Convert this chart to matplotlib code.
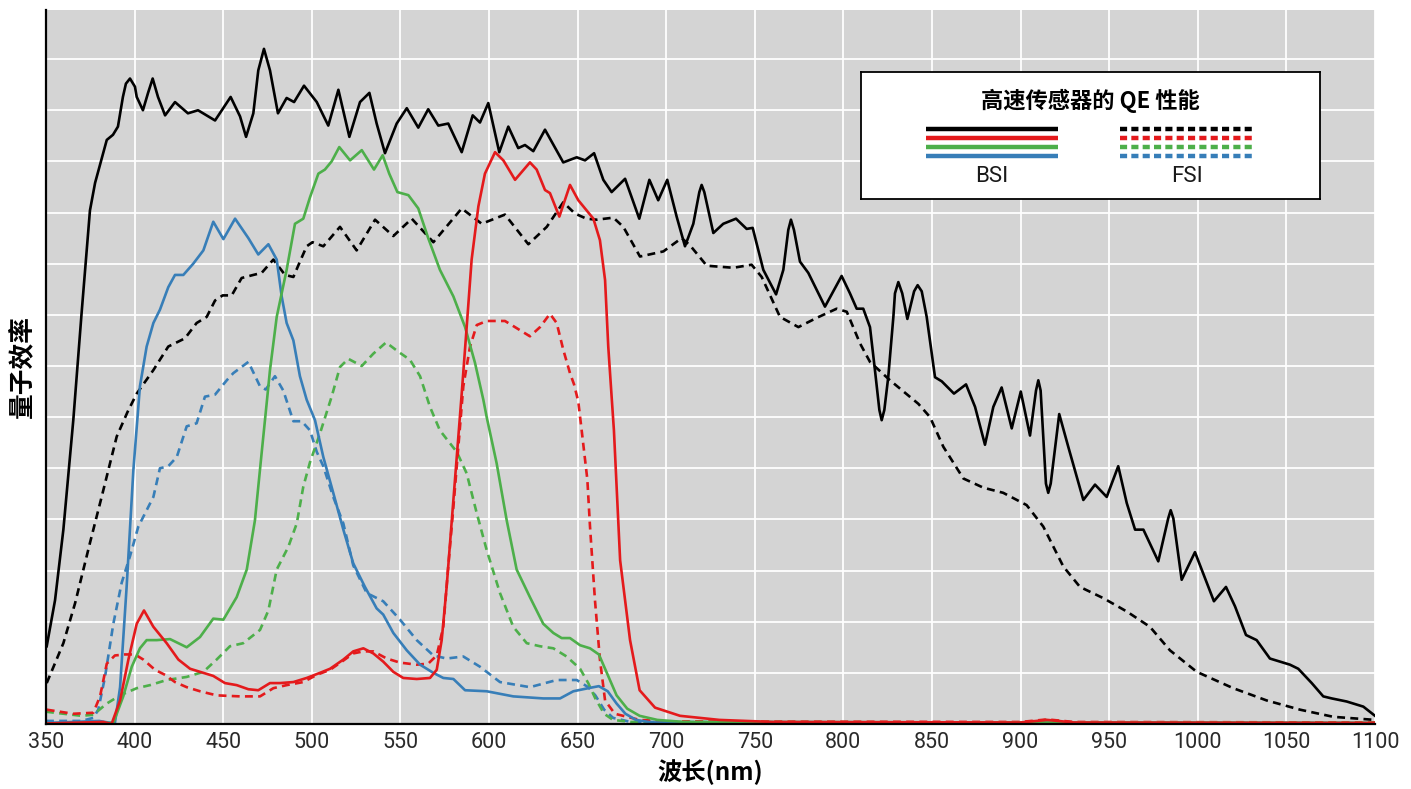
import matplotlib

matplotlib.use("Agg")
import matplotlib.pyplot as plt

# ---- data (QE in %) ----
bsi_black_wl = [350.4, 355.1, 359.8, 365.4, 370.1, 374.8, 377.7, 384.3, 387.8, 390.6,
                393.4, 395.1, 397.4, 400.2, 401.2, 404.7, 407.6, 410.2, 413.2, 417.2,
                422.8, 430.1, 435.8, 445.4, 454.2, 459.5, 462.9, 467.0, 469.8, 473.0,
                476.4, 480.9, 485.8, 490.0, 495.6, 502.8, 509.3, 515.0, 521.2, 527.2,
                532.5, 536.6, 541.3, 547.9, 553.6, 560.1, 565.7, 571.4, 577.0, 584.6,
                590.8, 594.9, 599.6, 605.8, 610.9, 616.5, 620.3, 625.0, 631.6, 641.9,
                649.5, 654.2, 659.3, 664.5, 669.2, 676.8, 684.8, 690.5, 695.5, 700.6,
                705.9, 710.6, 715.3, 718.7, 720.0, 721.5, 726.6, 732.2, 739.4, 745.4,
                748.8, 754.8, 762.0, 766.1, 768.9, 770.4, 772.1, 775.5, 780.2, 789.6,
                799.0, 803.7, 807.5, 811.2, 815.0, 817.8, 820.3, 821.6, 823.1, 825.3,
                828.2, 829.1, 831.0, 833.2, 836.1, 839.9, 841.9, 844.2, 847.0, 851.7,
                855.5, 862.4, 869.2, 874.3, 879.9, 884.6, 889.3, 895.0, 900.1, 905.3,
                908.7, 910.0, 911.3, 914.3, 915.6, 917.0, 921.8, 926.9, 935.4, 942.0,
                948.6, 955.1, 959.9, 964.6, 969.3, 977.7, 983.3, 984.7, 986.2, 990.9,
                998.4, 1009.1, 1015.9, 1021.0, 1027.2, 1033.2, 1040.7, 1052.0, 1056.7, 1064.3,
                1070.8, 1075.6, 1084.0, 1093.4, 1100.0]
bsi_black_qe = [7.6, 12.1, 19.0, 29.7, 40.2, 50.2, 52.9, 57.1, 57.6, 58.4,
                61.3, 62.6, 63.1, 62.3, 61.3, 60.0, 61.7, 63.1, 61.3, 59.5,
                60.8, 59.7, 60.0, 59.0, 61.3, 59.4, 57.4, 59.7, 63.9, 66.0,
                63.9, 59.7, 61.2, 60.8, 62.4, 60.8, 58.5, 62.0, 57.4, 60.8,
                61.7, 58.7, 55.8, 58.7, 60.2, 58.3, 60.1, 58.5, 58.7, 55.9,
                59.5, 58.8, 60.7, 55.9, 58.4, 56.3, 56.6, 56.0, 58.1, 54.9,
                55.4, 55.1, 55.8, 53.2, 52.0, 53.3, 49.4, 53.2, 51.2, 53.2,
                49.6, 46.7, 48.9, 52.0, 52.7, 52.0, 48.0, 48.9, 49.4, 48.4,
                48.5, 44.4, 42.0, 44.4, 48.3, 49.3, 48.3, 45.2, 44.1, 40.8,
                43.8, 42.1, 40.6, 40.6, 38.8, 34.6, 30.7, 29.7, 30.7, 33.9,
                39.8, 42.1, 43.2, 42.1, 39.6, 42.3, 42.9, 42.3, 39.8, 33.9,
                33.5, 32.3, 33.2, 31.0, 27.3, 31.0, 32.9, 28.9, 32.5, 28.2,
                32.6, 33.6, 32.6, 23.5, 22.6, 23.5, 30.3, 27.1, 21.9, 23.4,
                22.2, 25.2, 21.6, 19.0, 19.0, 15.9, 20.1, 20.9, 20.1, 14.1,
                16.8, 12.0, 13.4, 11.5, 8.7, 8.2, 6.4, 5.8, 5.4, 4.0,
                2.7, 2.5, 2.2, 1.7, 0.8]

fsi_black_wl = [350.4, 359.8, 366.4, 374.8, 381.4, 389.9, 396.0, 401.2, 410.6, 419.0,
                428.4, 435.0, 440.7, 445.4, 449.7, 454.8, 460.4, 467.0, 471.7, 478.3,
                484.9, 489.6, 493.3, 497.1, 500.4, 506.5, 515.9, 525.3, 535.7, 546.0,
                556.4, 568.6, 584.6, 595.9, 609.0, 622.2, 632.6, 641.9, 648.5, 655.0,
                660.8, 670.2, 675.8, 685.2, 698.4, 708.7, 713.4, 722.9, 737.9, 748.2,
                753.9, 764.2, 774.6, 784.9, 796.2, 801.9, 809.4, 815.0, 826.3, 842.3,
                848.9, 856.4, 867.7, 879.0, 890.2, 903.4, 912.8, 924.1, 933.5, 946.7,
                959.9, 973.0, 984.3, 999.4, 1020.0, 1038.9, 1057.7, 1076.5, 1100.0]
fsi_black_qe = [4.0, 7.9, 11.8, 17.7, 22.2, 28.1, 30.5, 32.3, 34.6, 36.9,
                37.7, 39.2, 39.8, 41.4, 41.9, 41.9, 43.6, 43.9, 44.1, 45.4,
                43.9, 43.7, 45.2, 46.7, 47.1, 46.7, 48.6, 46.3, 49.3, 47.7,
                49.4, 47.1, 50.4, 48.9, 49.8, 46.9, 48.6, 51.0, 49.9, 49.4,
                49.3, 49.5, 48.6, 45.7, 46.2, 47.5, 46.8, 44.8, 44.6, 44.9,
                43.7, 39.8, 38.8, 39.7, 40.6, 40.3, 37.2, 35.4, 33.6, 31.3,
                30.0, 27.1, 24.0, 23.1, 22.6, 21.4, 19.3, 15.4, 13.4, 12.3,
                11.0, 9.5, 7.2, 5.1, 3.5, 2.3, 1.4, 0.7, 0.4]

bsi_blue_wl = [350, 380, 385, 388.9, 391.8, 395.5, 399.3, 403.0, 406.8, 410.6,
               414.3, 419.0, 422.8, 427.5, 433.1, 438.8, 444.4, 450.1, 456.7, 464.2,
               469.8, 475.5, 480.2, 483.0, 485.8, 489.6, 493.3, 497.1, 501.8, 506.5,
               512.1, 517.8, 523.4, 530.0, 536.6, 540.3, 546.0, 553.6, 561.1, 568.6,
               574.2, 579.9, 586.5, 598.7, 613.7, 630.6, 640.1, 647.6, 656.0, 662.0,
               667.0, 672.0, 677.0, 683.0, 692.0, 1100]
bsi_blue_qe = [0.1, 0.3, 0.15, 0.1, 3.6, 13.4, 24.8, 33.0, 36.9, 39.2,
               40.5, 42.7, 43.9, 43.9, 45.0, 46.3, 49.1, 47.4, 49.4, 47.5,
               45.9, 46.9, 45.4, 41.8, 39.2, 37.5, 34.0, 31.7, 29.7, 26.1,
               22.6, 19.0, 15.7, 13.4, 11.3, 10.7, 8.9, 7.2, 5.8, 5.0,
               4.5, 4.4, 3.3, 3.2, 2.7, 2.5, 2.5, 3.2, 3.5, 3.7,
               3.2, 2.0, 1.0, 0.4, 0.15, 0.05]

fsi_blue_wl = [350, 370, 376.7, 379.5, 383.3, 388.0, 392.7, 397.4, 402.1, 406.8,
               410.6, 414.3, 419.0, 423.8, 429.4, 435.0, 439.7, 445.4, 452.0, 455.7,
               464.2, 470.8, 474.0, 479.2, 483.9, 489.6, 494.3, 499.0, 502.8, 506.5,
               512.1, 517.8, 523.4, 531.0, 540.3, 549.8, 559.2, 568.6, 576.1, 585.5,
               594.9, 606.2, 623.1, 638.2, 649.5, 656.0, 660.0, 665.0, 670.0, 680.0,
               1100]
fsi_blue_qe = [0.3, 0.3, 0.6, 1.4, 4.6, 9.8, 13.8, 16.4, 19.3, 20.9,
               22.2, 25.0, 25.2, 26.1, 29.1, 29.4, 32.0, 32.2, 33.6, 34.3,
               35.4, 33.0, 32.7, 34.0, 32.6, 29.6, 29.6, 28.7, 26.6, 25.2,
               22.2, 19.6, 15.5, 12.8, 12.0, 10.2, 8.2, 6.7, 6.4, 6.6,
               5.6, 4.1, 3.6, 4.3, 4.3, 3.6, 2.8, 1.4, 0.6, 0.2,
               0.1]

bsi_green_wl = [350, 388.0, 393.6, 398.4, 403.0, 406.8, 412.5, 420.0, 429.4, 436.9,
                444.4, 450.1, 457.6, 463.3, 467.9, 471.7, 474.5, 476.4, 480.2, 485.8,
                490.5, 495.2, 499.0, 503.7, 507.4, 511.2, 515.5, 521.6, 528.2, 535.1,
                540.0, 543.7, 548.3, 554.5, 560.1, 565.7, 572.3, 579.9, 586.5, 592.1,
                596.8, 598.7, 604.3, 610.0, 615.6, 623.1, 630.6, 636.3, 641.0, 645.7,
                651.4, 657.0, 662.0, 667.0, 672.0, 678.0, 685.0, 695.0, 710.0, 1100]
bsi_green_qe = [0.05, 0.1, 2.7, 5.6, 7.4, 8.2, 8.2, 8.3, 7.5, 8.5,
                10.3, 10.2, 12.4, 15.1, 19.9, 26.5, 31.3, 34.6, 39.8, 44.4,
                48.9, 49.4, 51.5, 53.8, 54.2, 55.0, 56.4, 55.1, 56.1, 54.2,
                55.6, 53.8, 52.0, 51.7, 50.4, 47.5, 44.4, 41.8, 38.8, 35.3,
                31.7, 30.0, 25.5, 19.9, 15.1, 12.4, 9.8, 8.9, 8.4, 8.4,
                7.7, 7.4, 6.8, 4.8, 2.8, 1.5, 0.8, 0.4, 0.2, 0.1]

fsi_green_wl = [350, 370, 376.7, 384.3, 391.8, 401.2, 408.7, 418.1, 429.4, 438.8,
                446.3, 453.8, 461.3, 470.8, 475.5, 480.2, 486.7, 491.5, 495.2, 499.0,
                504.6, 511.2, 515.9, 520.6, 528.2, 534.7, 541.9, 548.8, 555.4, 561.1,
                566.7, 572.3, 581.8, 587.4, 593.1, 598.7, 606.2, 613.7, 621.3, 628.8,
                636.3, 643.8, 651.4, 656.0, 660.0, 665.0, 670.0, 680.0, 900, 915, 930, 1100]
fsi_green_qe = [1.2, 0.8, 0.9, 2.0, 2.8, 3.5, 3.8, 4.3, 4.6, 5.1,
                6.3, 7.6, 7.9, 9.2, 11.1, 15.1, 17.3, 19.6, 23.2, 25.6,
                28.4, 32.0, 34.9, 35.7, 35.0, 36.2, 37.3, 36.4, 35.6, 34.0,
                31.0, 28.7, 26.6, 24.5, 20.6, 17.0, 12.8, 9.5, 7.9, 7.6,
                7.4, 6.6, 5.4, 4.0, 2.5, 1.0, 0.4, 0.2, 0.15, 0.4, 0.15, 0.1]

bsi_red_wl = [350, 382.3, 387.0, 391.8, 396.5, 401.2, 405.3, 410.6, 418.1, 424.7,
              431.3, 438.8, 444.4, 451.0, 457.6, 464.2, 469.8, 476.4, 482.0, 489.6,
              497.1, 504.6, 510.3, 517.8, 523.4, 529.1, 534.7, 540.3, 546.0, 551.6,
              559.2, 566.7, 570.5, 573.3, 576.1, 579.0, 581.8, 584.6, 587.4, 590.2,
              594.0, 597.7, 603.4, 608.1, 614.7, 623.1, 626.9, 631.6, 634.4, 639.7,
              645.7, 650.4, 658.9, 662.6, 665.5, 667.3, 669.2, 670.5, 674.0, 679.6,
              685.0, 693.7, 707.8, 730, 760, 900, 915, 930, 1100]
bsi_red_qe = [0.05, 0.2, 0.0, 2.3, 6.3, 9.8, 11.1, 9.5, 7.9, 6.3,
              5.4, 5.0, 4.7, 4.0, 3.8, 3.4, 3.3, 4.0, 4.0, 4.1,
              4.5, 5.0, 5.4, 6.3, 7.1, 7.4, 6.9, 6.1, 5.1, 4.5,
              4.4, 4.5, 5.3, 8.2, 13.4, 19.9, 26.1, 32.3, 38.8, 45.4,
              50.6, 53.8, 55.9, 55.1, 53.2, 54.9, 54.2, 52.2, 51.9, 49.6,
              52.7, 51.2, 49.4, 47.3, 43.4, 36.9, 32.0, 28.7, 16.0, 8.2,
              3.3, 1.6, 0.8, 0.4, 0.2, 0.15, 0.4, 0.15, 0.1]

fsi_red_wl = [350.4, 365.4, 376.7, 380.5, 384.3, 388.9, 394.6, 400.2, 404.9, 411.5,
              417.2, 422.8, 429.4, 436.9, 446.3, 459.5, 470.8, 478.3, 485.8, 495.2,
              502.8, 510.3, 517.8, 523.4, 529.1, 534.7, 542.3, 549.8, 559.2, 565.7,
              570.5, 574.2, 577.0, 579.9, 582.7, 585.5, 589.3, 593.1, 598.7, 609.0,
              615.6, 623.1, 628.8, 634.4, 638.2, 641.9, 645.7, 648.0, 650.4, 652.3,
              655.5, 657.0, 659.8, 662.6, 665.5, 671.0, 685.0, 700, 900, 915, 930, 1100]
fsi_red_qe = [1.4, 1.0, 1.1, 2.7, 5.9, 6.7, 6.8, 6.8, 6.3, 5.3,
              4.8, 4.1, 3.6, 3.2, 2.8, 2.7, 2.7, 3.5, 3.8, 4.1,
              4.8, 5.3, 6.2, 6.9, 7.1, 7.1, 6.4, 6.0, 5.8, 5.9,
              6.7, 9.5, 15.4, 21.2, 27.1, 33.0, 36.9, 39.0, 39.4, 39.4,
              38.7, 37.9, 38.8, 40.1, 39.2, 36.6, 34.3, 33.2, 31.5, 28.7,
              23.9, 19.3, 12.1, 6.3, 2.3, 1.0, 0.4, 0.25, 0.2, 0.45, 0.2, 0.15]

x_ticks = list(range(350, 1101, 50))
y_grid = list(range(0, 70, 5))

BLACK = "#000000"
RED = "#e41a1c"
GREEN = "#4daf4a"
BLUE = "#377eb8"
DASH = (0, (3, 2))

fig = plt.figure(figsize=(14.11, 7.89), dpi=100)
ax = fig.add_axes([46 / 1411, 1 - 724 / 789, 1329 / 1411, 714 / 789])
ax.set_facecolor("#d4d4d4")

fsi = [(fsi_blue_wl, fsi_blue_qe, BLUE), (fsi_green_wl, fsi_green_qe, GREEN),
       (fsi_red_wl, fsi_red_qe, RED), (fsi_black_wl, fsi_black_qe, BLACK)]
bsi = [(bsi_blue_wl, bsi_blue_qe, BLUE), (bsi_green_wl, bsi_green_qe, GREEN),
       (bsi_red_wl, bsi_red_qe, RED), (bsi_black_wl, bsi_black_qe, BLACK)]
for wl, qe, col in fsi:
    ax.plot(wl, qe, color=col, lw=1.9, linestyle=DASH, zorder=3)
for wl, qe, col in bsi:
    ax.plot(wl, qe, color=col, lw=1.9, solid_joinstyle="round", zorder=4)

ax.set_xlim(350, 1100)
ax.set_ylim(0, 69.8)
ax.set_xticks(x_ticks)
ax.set_xticklabels([str(t) for t in x_ticks], family="Roboto", fontsize=15.5,
                   color="#2a2a2a")
ax.set_yticks(y_grid)
ax.set_yticklabels([])
ax.tick_params(length=0, pad=6)
ax.grid(True, color="white", lw=1.3)
ax.set_axisbelow(True)
for side in ("top", "right"):
    ax.spines[side].set_visible(False)
for side in ("left", "bottom"):
    ax.spines[side].set_color("black")
    ax.spines[side].set_linewidth(1.6)
    ax.spines[side].set_zorder(6)

cjk = ["Noto Sans CJK SC", "DejaVu Sans"]
ax.set_xlabel("波长(nm)", family=cjk, fontsize=17.5, fontweight="bold", labelpad=4)
ax.set_ylabel("量子效率", family=cjk, fontsize=18.5, fontweight="bold", labelpad=2)

# legend panel
lg = fig.add_axes([861 / 1411, 1 - 199 / 789, 459 / 1411, 127 / 789])
lg.set_xlim(0, 1)
lg.set_ylim(0, 1)
lg.set_xticks([])
lg.set_yticks([])
for s in lg.spines.values():
    s.set_linewidth(1.3)
    s.set_color("black")
lg.set_facecolor("white")
lg.text(0.5, 0.77, "高速传感器的 QE 性能", family=cjk, fontsize=16, fontweight="bold",
        ha="center", va="center")
for i, col in enumerate([BLACK, RED, GREEN, BLUE]):
    yy = 0.551 - i * 0.0705
    lg.plot([0.1416, 0.429], [yy, yy], color=col, lw=3.2, solid_capstyle="butt")
    lg.plot([0.564, 0.854], [yy, yy], color=col, lw=3.2, linestyle=(0, (1.6, 0.95)),
            dash_capstyle="butt")
lg.text(0.285, 0.18, "BSI", family="Roboto", fontsize=16, color="#1a1a1a",
        ha="center", va="center")
lg.text(0.71, 0.18, "FSI", family="Roboto", fontsize=16, color="#1a1a1a",
        ha="center", va="center")

fig.savefig("out.png", dpi=100)
